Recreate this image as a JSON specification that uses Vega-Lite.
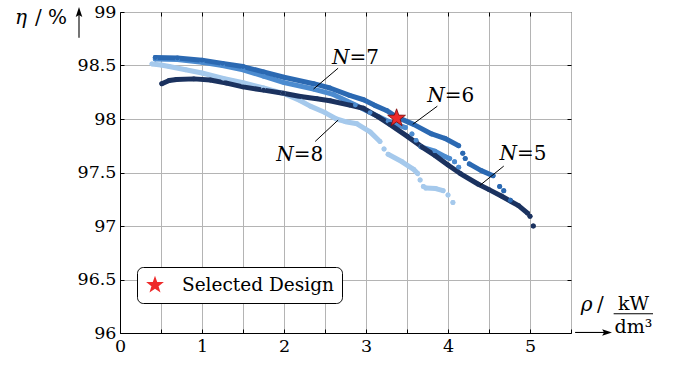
{
  "$schema": "https://vega.github.io/schema/vega-lite/v6.json",
  "width": 451,
  "height": 321,
  "autosize": {"type": "none"},
  "padding": {"left": 120, "top": 12, "right": 109, "bottom": 34},
  "background": "white",
  "config": {
    "font": "DejaVu Serif",
    "view": {"stroke": "black", "strokeWidth": 1},
    "text": {"font": "DejaVu Serif"},
    "axis": {
      "labelFont": "DejaVu Serif",
      "labelFontSize": 17.5,
      "labelColor": "black",
      "labelFlush": false,
      "domainColor": "black",
      "domainWidth": 1,
      "tickColor": "black",
      "tickSize": -4,
      "tickWidth": 1,
      "gridColor": "#b4b4b4",
      "gridWidth": 1
    }
  },
  "datasets": {
    "curves": [
      {"N": "8", "seg": "a", "x": 0.39, "y": 98.515},
      {"N": "8", "seg": "a", "x": 0.5, "y": 98.505},
      {"N": "8", "seg": "a", "x": 0.6, "y": 98.49},
      {"N": "8", "seg": "a", "x": 0.8, "y": 98.46},
      {"N": "8", "seg": "a", "x": 1.0, "y": 98.43},
      {"N": "8", "seg": "a", "x": 1.26, "y": 98.38},
      {"N": "8", "seg": "a", "x": 1.5, "y": 98.34},
      {"N": "8", "seg": "a", "x": 1.75, "y": 98.29},
      {"N": "8", "seg": "a", "x": 1.99, "y": 98.24},
      {"N": "8", "seg": "a", "x": 2.2, "y": 98.17},
      {"N": "8", "seg": "a", "x": 2.32, "y": 98.12},
      {"N": "8", "seg": "a", "x": 2.5, "y": 98.06},
      {"N": "8", "seg": "a", "x": 2.64, "y": 98.0},
      {"N": "8", "seg": "a", "x": 2.75, "y": 97.975},
      {"N": "8", "seg": "a", "x": 2.89, "y": 97.955},
      {"N": "8", "seg": "a", "x": 3.05, "y": 97.88},
      {"N": "8", "seg": "a", "x": 3.17, "y": 97.79},
      {"N": "8", "seg": "d1", "x": 3.22, "y": 97.72},
      {"N": "8", "seg": "b", "x": 3.27, "y": 97.67},
      {"N": "8", "seg": "b", "x": 3.44, "y": 97.6},
      {"N": "8", "seg": "b", "x": 3.58, "y": 97.53},
      {"N": "8", "seg": "b", "x": 3.63, "y": 97.49},
      {"N": "8", "seg": "d2", "x": 3.66, "y": 97.43},
      {"N": "8", "seg": "d3", "x": 3.7, "y": 97.37},
      {"N": "8", "seg": "c", "x": 3.73, "y": 97.355},
      {"N": "8", "seg": "c", "x": 3.85, "y": 97.35},
      {"N": "8", "seg": "c", "x": 3.94, "y": 97.33},
      {"N": "8", "seg": "d4", "x": 4.0, "y": 97.29},
      {"N": "8", "seg": "d5", "x": 4.06, "y": 97.22},

      {"N": "7", "seg": "a", "x": 0.43, "y": 98.56},
      {"N": "7", "seg": "a", "x": 0.7, "y": 98.555},
      {"N": "7", "seg": "a", "x": 1.0, "y": 98.53},
      {"N": "7", "seg": "a", "x": 1.25, "y": 98.5},
      {"N": "7", "seg": "a", "x": 1.5, "y": 98.46},
      {"N": "7", "seg": "a", "x": 1.75, "y": 98.4},
      {"N": "7", "seg": "a", "x": 2.0, "y": 98.34},
      {"N": "7", "seg": "a", "x": 2.36, "y": 98.28},
      {"N": "7", "seg": "a", "x": 2.6, "y": 98.23},
      {"N": "7", "seg": "a", "x": 2.87, "y": 98.13},
      {"N": "7", "seg": "a", "x": 3.05, "y": 98.06},
      {"N": "7", "seg": "a", "x": 3.27, "y": 97.98},
      {"N": "7", "seg": "a", "x": 3.48, "y": 97.92},
      {"N": "7", "seg": "d1", "x": 3.56, "y": 97.86},
      {"N": "7", "seg": "d2", "x": 3.61, "y": 97.8},
      {"N": "7", "seg": "b", "x": 3.67, "y": 97.74},
      {"N": "7", "seg": "b", "x": 3.84, "y": 97.7},
      {"N": "7", "seg": "b", "x": 3.96, "y": 97.65},
      {"N": "7", "seg": "b", "x": 4.02, "y": 97.63},
      {"N": "7", "seg": "d3", "x": 4.08, "y": 97.6},
      {"N": "7", "seg": "d4", "x": 4.13, "y": 97.55},

      {"N": "6", "seg": "a", "x": 0.43, "y": 98.575},
      {"N": "6", "seg": "a", "x": 0.7, "y": 98.57},
      {"N": "6", "seg": "a", "x": 1.0, "y": 98.55},
      {"N": "6", "seg": "a", "x": 1.25, "y": 98.52},
      {"N": "6", "seg": "a", "x": 1.5, "y": 98.49},
      {"N": "6", "seg": "a", "x": 1.75, "y": 98.44},
      {"N": "6", "seg": "a", "x": 2.0, "y": 98.39},
      {"N": "6", "seg": "a", "x": 2.36, "y": 98.33},
      {"N": "6", "seg": "a", "x": 2.56, "y": 98.29},
      {"N": "6", "seg": "a", "x": 2.8, "y": 98.22},
      {"N": "6", "seg": "a", "x": 2.97, "y": 98.18},
      {"N": "6", "seg": "a", "x": 3.1, "y": 98.13},
      {"N": "6", "seg": "a", "x": 3.25, "y": 98.08},
      {"N": "6", "seg": "a", "x": 3.37, "y": 98.02},
      {"N": "6", "seg": "a", "x": 3.58, "y": 97.95},
      {"N": "6", "seg": "a", "x": 3.8, "y": 97.86},
      {"N": "6", "seg": "a", "x": 3.96, "y": 97.82},
      {"N": "6", "seg": "a", "x": 4.13, "y": 97.75},
      {"N": "6", "seg": "d1", "x": 4.18, "y": 97.68},
      {"N": "6", "seg": "d2", "x": 4.21, "y": 97.63},
      {"N": "6", "seg": "b", "x": 4.26, "y": 97.58},
      {"N": "6", "seg": "b", "x": 4.4, "y": 97.52},
      {"N": "6", "seg": "b", "x": 4.55, "y": 97.47},
      {"N": "6", "seg": "d3", "x": 4.63, "y": 97.37},
      {"N": "6", "seg": "d4", "x": 4.68, "y": 97.33},
      {"N": "6", "seg": "d5", "x": 4.76, "y": 97.24},

      {"N": "5", "seg": "a", "x": 0.51, "y": 98.33},
      {"N": "5", "seg": "a", "x": 0.6, "y": 98.36},
      {"N": "5", "seg": "a", "x": 0.69, "y": 98.37},
      {"N": "5", "seg": "a", "x": 0.9, "y": 98.375},
      {"N": "5", "seg": "a", "x": 1.1, "y": 98.365},
      {"N": "5", "seg": "a", "x": 1.3, "y": 98.335},
      {"N": "5", "seg": "a", "x": 1.5, "y": 98.3},
      {"N": "5", "seg": "a", "x": 1.75, "y": 98.27},
      {"N": "5", "seg": "a", "x": 1.99, "y": 98.24},
      {"N": "5", "seg": "a", "x": 2.2, "y": 98.21},
      {"N": "5", "seg": "a", "x": 2.4, "y": 98.19},
      {"N": "5", "seg": "a", "x": 2.56, "y": 98.17},
      {"N": "5", "seg": "a", "x": 2.8, "y": 98.13},
      {"N": "5", "seg": "a", "x": 2.97, "y": 98.1},
      {"N": "5", "seg": "a", "x": 3.15, "y": 98.02},
      {"N": "5", "seg": "a", "x": 3.29, "y": 97.95},
      {"N": "5", "seg": "a", "x": 3.5, "y": 97.84},
      {"N": "5", "seg": "a", "x": 3.68, "y": 97.74},
      {"N": "5", "seg": "a", "x": 3.84, "y": 97.66},
      {"N": "5", "seg": "a", "x": 4.0, "y": 97.57},
      {"N": "5", "seg": "a", "x": 4.15, "y": 97.49},
      {"N": "5", "seg": "a", "x": 4.37, "y": 97.39},
      {"N": "5", "seg": "a", "x": 4.5, "y": 97.34},
      {"N": "5", "seg": "a", "x": 4.65, "y": 97.28},
      {"N": "5", "seg": "a", "x": 4.86, "y": 97.19},
      {"N": "5", "seg": "a", "x": 4.97, "y": 97.12},
      {"N": "5", "seg": "d1", "x": 5.0, "y": 97.09},
      {"N": "5", "seg": "d2", "x": 5.04, "y": 97.0}
    ],
    "labels": [
      {"x": 2.8, "y": 98.515, "n": "N", "eq": "=7"},
      {"x": 3.96, "y": 98.155, "n": "N", "eq": "=6"},
      {"x": 4.84, "y": 97.62, "n": "N", "eq": "=5"},
      {"x": 2.12, "y": 97.61, "n": "N", "eq": "=8"}
    ],
    "leaders": [
      {"x": 2.66, "y": 98.475, "x2": 2.36, "y2": 98.28},
      {"x": 2.66, "y": 97.99, "x2": 2.38, "y2": 97.79},
      {"x": 3.87, "y": 98.12, "x2": 3.57, "y2": 97.95},
      {"x": 4.68, "y": 97.56, "x2": 4.39, "y2": 97.38}
    ],
    "selected": [
      {"x": 3.373, "y": 98.008, "design": "Selected Design"}
    ],
    "quantitySymbols": [
      {"x": -1.28, "y": 98.888, "t": "η"},
      {"x": 5.62, "y": 96.204, "t": "ρ"}
    ],
    "unitText": [
      {"x": -1.037, "y": 98.888, "t": "/ %"},
      {"x": 5.817, "y": 96.204, "t": "/"}
    ],
    "unitFraction": [
      {"x": 6.262, "y": 96.215, "t": "kW"},
      {"x": 6.262, "y": 96.0, "t": "dm³"}
    ],
    "axisRules": [
      {"x": 6.02, "y": 96.18, "x2": 6.5, "y2": 96.18},
      {"x": -0.5, "y": 98.76, "x2": -0.5, "y2": 98.99},
      {"x": 5.55, "y": 96.005, "x2": 5.92, "y2": 96.005}
    ],
    "anchor": [{}]
  },
  "layer": [
    {
      "data": {"name": "curves"},
      "mark": {"type": "line", "strokeWidth": 5, "strokeCap": "round", "strokeJoin": "round"},
      "encoding": {
        "x": {
          "field": "x", "type": "quantitative",
          "scale": {"domain": [0, 5.5], "nice": false, "zero": false},
          "axis": {
            "orient": "bottom",
            "values": [0, 0.5, 1, 1.5, 2, 2.5, 3, 3.5, 4, 4.5, 5, 5.5],
            "labelExpr": "datum.value % 1 === 0 ? format(datum.value, 'd') : ''",
            "grid": true, "title": null, "labelPadding": 8, "labelFlush": false
          }
        },
        "y": {
          "field": "y", "type": "quantitative",
          "scale": {"domain": [96, 99], "nice": false, "zero": false},
          "axis": {
            "orient": "left",
            "values": [96, 96.5, 97, 97.5, 98, 98.5, 99],
            "format": "~g",
            "grid": true, "title": null, "labelPadding": 8, "labelFlush": false
          }
        },
        "color": {
          "field": "N", "type": "nominal",
          "scale": {"domain": ["5", "6", "7", "8"], "range": ["#1b325f", "#2b69b2", "#4c8bcf", "#a5c9ec"]},
          "legend": null
        },
        "detail": {"field": "seg"}
      }
    },
    {
      "data": {"name": "curves"},
      "mark": {"type": "point", "filled": true, "size": 24, "opacity": 1},
      "encoding": {
        "x": {"field": "x", "type": "quantitative", "scale": {"domain": [0, 5.5], "nice": false, "zero": false}, "axis": null},
        "y": {"field": "y", "type": "quantitative", "scale": {"domain": [96, 99], "nice": false, "zero": false}, "axis": null},
        "color": {"field": "N", "type": "nominal", "legend": null}
      }
    },
    {
      "data": {"name": "leaders"},
      "mark": {"type": "rule", "color": "black", "strokeWidth": 1},
      "encoding": {
        "x": {
          "field": "x", "type": "quantitative",
          "scale": {"domain": [0, 5.5], "nice": false, "zero": false},
          "axis": {"orient": "top", "values": [0.5, 1, 1.5, 2, 2.5, 3, 3.5, 4, 4.5, 5], "labels": false, "domain": false, "grid": false, "title": null}
        },
        "y": {
          "field": "y", "type": "quantitative",
          "scale": {"domain": [96, 99], "nice": false, "zero": false},
          "axis": {"orient": "right", "values": [96.5, 97, 97.5, 98, 98.5], "labels": false, "domain": false, "grid": false, "title": null}
        },
        "x2": {"field": "x2"},
        "y2": {"field": "y2"}
      }
    },
    {
      "data": {"name": "labels"},
      "mark": {"type": "text", "align": "right", "baseline": "alphabetic", "fontStyle": "italic", "fontSize": 20, "color": "black"},
      "encoding": {
        "x": {"field": "x", "type": "quantitative", "scale": {"domain": [0, 5.5], "nice": false, "zero": false}, "axis": null},
        "y": {"field": "y", "type": "quantitative", "scale": {"domain": [96, 99], "nice": false, "zero": false}, "axis": null},
        "text": {"field": "n"}
      }
    },
    {
      "data": {"name": "labels"},
      "mark": {"type": "text", "align": "left", "baseline": "alphabetic", "fontSize": 20, "color": "black"},
      "encoding": {
        "x": {"field": "x", "type": "quantitative", "scale": {"domain": [0, 5.5], "nice": false, "zero": false}, "axis": null},
        "y": {"field": "y", "type": "quantitative", "scale": {"domain": [96, 99], "nice": false, "zero": false}, "axis": null},
        "text": {"field": "eq"}
      }
    },
    {
      "data": {"name": "selected"},
      "mark": {"type": "point", "filled": true, "fill": "#ee2b2b", "stroke": "#7a0a0a", "strokeWidth": 0.8, "size": 350, "opacity": 1},
      "encoding": {
        "x": {"field": "x", "type": "quantitative", "scale": {"domain": [0, 5.5], "nice": false, "zero": false}, "axis": null},
        "y": {"field": "y", "type": "quantitative", "scale": {"domain": [96, 99], "nice": false, "zero": false}, "axis": null},
        "shape": {
          "field": "design", "type": "nominal",
          "scale": {"range": ["M0,-1L0.235,-0.324L0.951,-0.309L0.38,0.124L0.588,0.809L0,0.4L-0.588,0.809L-0.38,0.124L-0.951,-0.309L-0.235,-0.324Z"]},
          "legend": {
            "orient": "none", "legendX": 17, "legendY": 255, "title": null,
            "padding": 8, "strokeColor": "black", "fillColor": "white", "cornerRadius": 6,
            "labelFont": "DejaVu Serif", "labelFontSize": 18.5, "labelColor": "black", "labelOffset": 17,
            "symbolSize": 350, "symbolFillColor": "#ee2b2b", "symbolStrokeColor": "#7a0a0a", "symbolStrokeWidth": 0.8, "symbolOpacity": 1
          }
        }
      }
    },
    {
      "data": {"name": "quantitySymbols"},
      "mark": {"type": "text", "align": "left", "baseline": "alphabetic", "fontStyle": "italic", "fontSize": 20, "color": "black"},
      "encoding": {
        "x": {"field": "x", "type": "quantitative", "scale": {"domain": [0, 5.5], "nice": false, "zero": false}, "axis": null},
        "y": {"field": "y", "type": "quantitative", "scale": {"domain": [96, 99], "nice": false, "zero": false}, "axis": null},
        "text": {"field": "t"}
      }
    },
    {
      "data": {"name": "unitText"},
      "mark": {"type": "text", "align": "left", "baseline": "alphabetic", "fontSize": 20, "color": "black"},
      "encoding": {
        "x": {"field": "x", "type": "quantitative", "scale": {"domain": [0, 5.5], "nice": false, "zero": false}, "axis": null},
        "y": {"field": "y", "type": "quantitative", "scale": {"domain": [96, 99], "nice": false, "zero": false}, "axis": null},
        "text": {"field": "t"}
      }
    },
    {
      "data": {"name": "unitFraction"},
      "mark": {"type": "text", "align": "center", "baseline": "alphabetic", "fontSize": 19, "color": "black"},
      "encoding": {
        "x": {"field": "x", "type": "quantitative", "scale": {"domain": [0, 5.5], "nice": false, "zero": false}, "axis": null},
        "y": {"field": "y", "type": "quantitative", "scale": {"domain": [96, 99], "nice": false, "zero": false}, "axis": null},
        "text": {"field": "t"}
      }
    },
    {
      "data": {"name": "axisRules"},
      "mark": {"type": "rule", "color": "black", "strokeWidth": 1.1},
      "encoding": {
        "x": {"field": "x", "type": "quantitative", "scale": {"domain": [0, 5.5], "nice": false, "zero": false}, "axis": null},
        "y": {"field": "y", "type": "quantitative", "scale": {"domain": [96, 99], "nice": false, "zero": false}, "axis": null},
        "x2": {"field": "x2"},
        "y2": {"field": "y2"}
      }
    },
    {
      "data": {"name": "anchor"},
      "mark": {"type": "point", "filled": true, "color": "black", "opacity": 1, "size": 120, "shape": "M0,-1L0.6,0.8L0,0.45L-0.6,0.8Z"},
      "encoding": {
        "x": {"datum": -0.5, "type": "quantitative", "scale": {"domain": [0, 5.5], "nice": false, "zero": false}, "axis": null},
        "y": {"datum": 98.995, "type": "quantitative", "scale": {"domain": [96, 99], "nice": false, "zero": false}, "axis": null}
      }
    },
    {
      "data": {"name": "anchor"},
      "mark": {"type": "point", "filled": true, "color": "black", "opacity": 1, "size": 120, "shape": "M1,0L-0.8,0.6L-0.45,0L-0.8,-0.6Z"},
      "encoding": {
        "x": {"datum": 5.933, "type": "quantitative", "scale": {"domain": [0, 5.5], "nice": false, "zero": false}, "axis": null},
        "y": {"datum": 96.005, "type": "quantitative", "scale": {"domain": [96, 99], "nice": false, "zero": false}, "axis": null}
      }
    }
  ]
}
